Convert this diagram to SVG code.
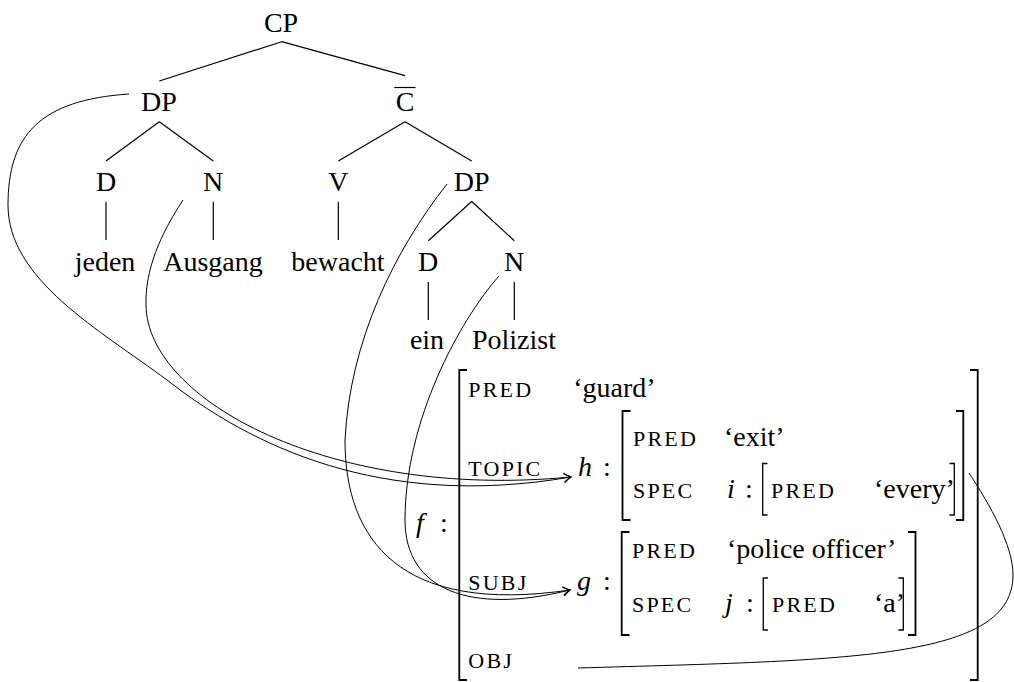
<svg xmlns="http://www.w3.org/2000/svg" width="1014" height="682" viewBox="0 0 1014 682" font-family="'Liberation Serif', 'DejaVu Serif', serif">
<style>
 text{font-family:"Liberation Serif","DejaVu Serif",serif;font-size:28px;fill:#000}
 .c{text-anchor:middle}
 .sc{font-size:22px;letter-spacing:2.2px}
 .m{font-style:italic}
 .e{stroke:#000;stroke-width:1.2;fill:none}
 .br{stroke:#000;stroke-width:1.8;fill:none}
 .brs{stroke:#000;stroke-width:1.3;fill:none}
 .cv{stroke:#000;stroke-width:1;fill:none}
 .arr{marker-end:url(#ar)}
</style>
<defs>
 <marker id="ar" viewBox="-8 -6 10 12" markerWidth="10" markerHeight="12" refX="0" refY="0" orient="auto" markerUnits="userSpaceOnUse">
  <path d="M-7,-4.5 Q-2.5,-1 0,0 Q-2.5,1 -7,4.5" fill="none" stroke="#000" stroke-width="1"/>
 </marker>
</defs>

<g id="connectors">
 <path class="e" d="M281.7,41.7 L159.3,81 M281.7,41.7 L405,75.7"/>
 <path class="e" d="M159.3,121.7 L106,161 M159.3,121.7 L213.3,161"/>
 <path class="e" d="M405,121.7 L338.3,161 M405,121.7 L471.7,161"/>
 <path class="e" d="M106,201.7 V240 M213.3,201.7 V240 M338.3,201.7 V240"/>
 <path class="e" d="M471.7,201.5 L428.3,240.7 M471.7,201.5 L514.3,240.7"/>
 <path class="e" d="M428.3,282 V320 M514.3,282 V320"/>
 <path class="cv arr" d="M129,94 C40,100 8,135 8,205 C8,280 100,330 167,380 C250,445 380,510 571,477"/>
 <path class="cv arr" d="M183,200 C160,235 145,270 146,305 C147,400 330,500 571,477"/>
 <path class="cv arr" d="M447,184 C395,250 350,340 345,440 C345,540 400,615 570,590"/>
 <path class="cv arr" d="M499,276 C460,320 405,420 405,520 C405,590 470,615 570,590"/>
 <path class="cv" d="M578,668 C850,660 1013,660 1013,575 C1013,545 990,505 969,473"/>
</g>

<g id="n-CP"><text class="c" x="281" y="32">CP</text></g>
<g id="n-DP1"><text class="c" x="159" y="111">DP</text></g>
<g id="n-Cbar"><text class="c" x="405" y="111">C</text><path class="e" d="M394.3,87.5 H415.5"/></g>
<g id="n-D1"><text class="c" x="106" y="191">D</text></g>
<g id="n-N1"><text class="c" x="213" y="191">N</text></g>
<g id="n-V"><text class="c" x="338.3" y="191">V</text></g>
<g id="n-DP2"><text class="c" x="471.7" y="191">DP</text></g>
<g id="n-jeden"><text class="c" x="105" y="271">jeden</text></g>
<g id="n-Ausgang"><text class="c" x="213" y="271">Ausgang</text></g>
<g id="n-bewacht"><text class="c" x="338" y="271">bewacht</text></g>
<g id="n-D2"><text class="c" x="428" y="271">D</text></g>
<g id="n-N2"><text class="c" x="514" y="271">N</text></g>
<g id="n-ein"><text class="c" x="427" y="349">ein</text></g>
<g id="n-Polizist"><text class="c" x="514" y="349">Polizist</text></g>

<g id="avm-f">
 <text class="m" x="416" y="532">f</text><text x="440" y="532">:</text>
 <path class="br" d="M467,370 H459.3 V680 H467"/>
 <path class="br" d="M970,370 H977.7 V680 H970"/>
 <text class="sc" x="468.3" y="396.7">PRED</text>
 <text x="573.3" y="396.7">‘guard’</text>
 <text class="sc" x="468.3" y="476">TOPIC</text>
 <text class="sc" x="468.3" y="590">SUBJ</text>
 <text class="sc" x="468.3" y="668">OBJ</text>
</g>

<g id="avm-h">
 <text class="m" x="578" y="476">h</text><text x="603" y="476">:</text>
 <path class="br" d="M630.5,411 H622.5 V520 H630.5"/>
 <path class="br" d="M956,411 H963.3 V520 H956"/>
 <text class="sc" x="633" y="446">PRED</text>
 <text x="724" y="446">‘exit’</text>
 <text class="sc" x="633" y="498">SPEC</text>
</g>

<g id="avm-i">
 <text class="m" x="727" y="498">i</text><text x="745" y="498">:</text>
 <path class="brs" d="M767.5,463.5 H762.7 V515 H767.5"/>
 <path class="brs" d="M949.5,463.5 H954.3 V515 H949.5"/>
 <text class="sc" x="771" y="498">PRED</text>
 <text x="874" y="498">‘every’</text>
</g>

<g id="avm-g">
 <text class="m" x="577" y="590">g</text><text x="603" y="590">:</text>
 <path class="br" d="M629.5,532 H621.7 V635 H629.5"/>
 <path class="br" d="M908,532 H915.5 V635 H908"/>
 <text class="sc" x="632" y="558">PRED</text>
 <text x="727" y="558">‘police officer’</text>
 <text class="sc" x="632" y="611.7">SPEC</text>
</g>

<g id="avm-j">
 <text class="m" x="725" y="611.7">j</text><text x="746" y="611.7">:</text>
 <path class="brs" d="M768,578 H763.3 V630 H768"/>
 <path class="brs" d="M898.5,578 H903.3 V630 H898.5"/>
 <text class="sc" x="772" y="611.7">PRED</text>
 <text x="874" y="611.7">‘a’</text>
</g>
</svg>
